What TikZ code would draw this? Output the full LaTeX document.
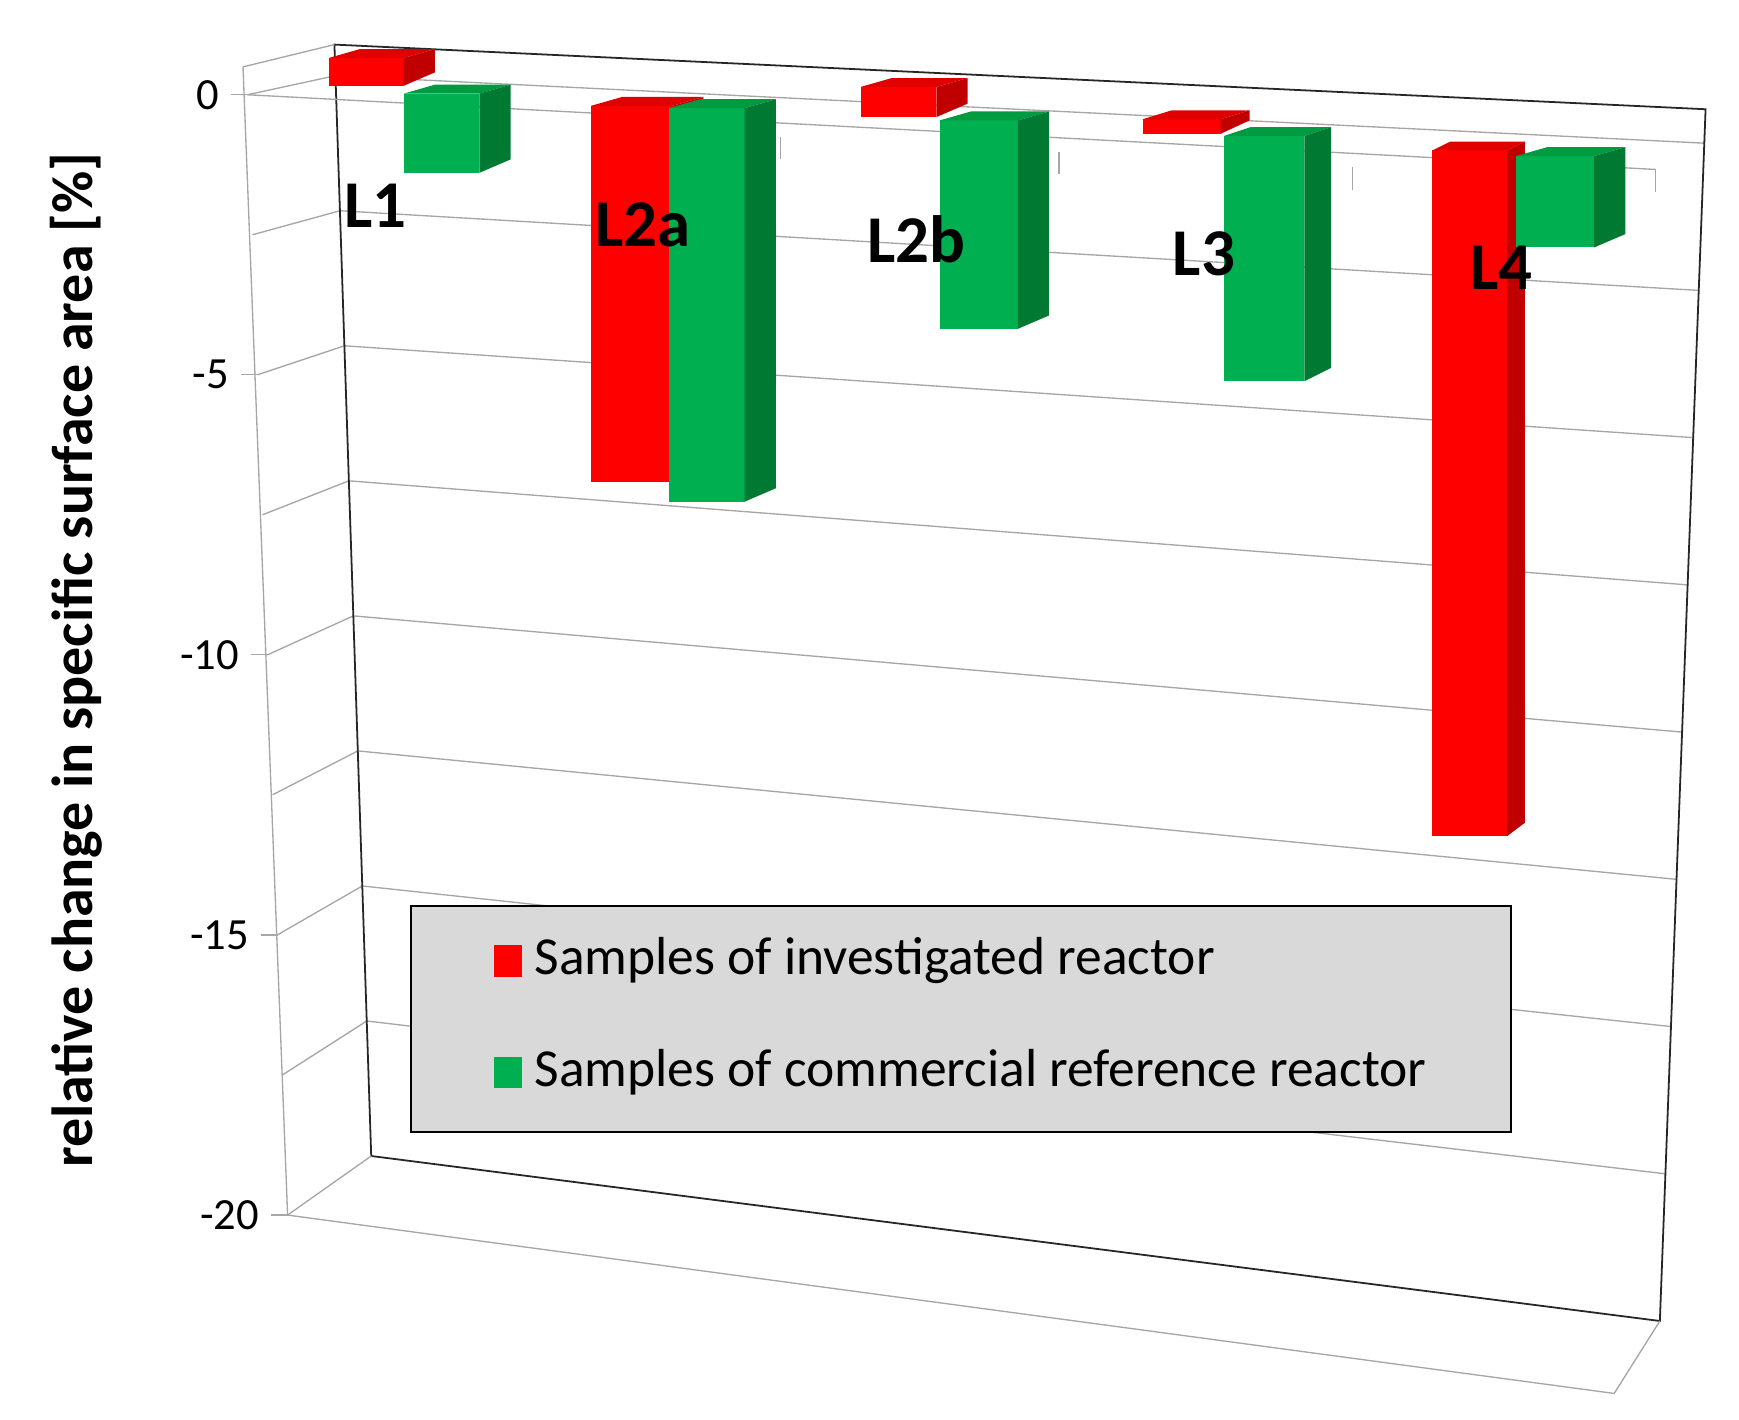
\documentclass[tikz,border=0pt]{standalone}
\usepackage{fontspec}
\setmainfont{Carlito}
\definecolor{rf}{HTML}{FF0000}\definecolor{rs}{HTML}{C00000}\definecolor{rt}{HTML}{E00000}
\definecolor{gf}{HTML}{00B050}\definecolor{gs}{HTML}{007A33}\definecolor{gt}{HTML}{009A40}
\definecolor{lg}{HTML}{D9D9D9}
\newcommand{\mybar}[6]{%
  \fill[#6f] (#1,#3) rectangle (#2,#4);
  \fill[#6t] (#1,#3) -- (#2,#3) -- ++(#5,-8) -- (#1+#5,#3-8) -- cycle;
  \fill[#6s] (#2,#3) -- ++(#5,-8) -- (#2+#5,#4-12) -- (#2,#4) -- cycle;}
\begin{document}
\begin{tikzpicture}[x=1pt,y=-1pt,
  grid/.style={gray!70,line width=1.2pt},
  wall/.style={black!85,line width=1.6pt},
  lab/.style={font=\fontsize{40}{40}\selectfont,anchor=east},
  cat/.style={font=\fontsize{60}{60}\selectfont\bfseries}]
\useasboundingbox (0,0) rectangle (1560,1273);
% gridlines
\foreach \i in {0,...,7}{
  \pgfmathsetmacro{\t}{0.028+0.1215*\i}
  \draw[grid] (222+4.5*\i,85+125.6*\i) -- (300+33*\t,40+997*\t) -- (1530-41*\t,98+1087*\t);
}
% walls
\coordinate (bl0) at (300,40); \coordinate (br0) at (1530,98);
\coordinate (bl1) at (333,1037); \coordinate (br1) at (1489,1185);
\coordinate (ft) at (218,60); \coordinate (fb) at (258,1090); \coordinate (fr) at (1448,1250);
\draw[wall] (bl0) -- (br0) -- (br1) -- (bl1) -- cycle;
\draw[grid] (ft) -- (bl0);
\draw[grid] (fb) -- (bl1);
\draw[grid] (fb) -- (fr) -- (br1);
\draw[grid] (ft) -- (fb);
% y ticks and labels
\foreach \v/\l in {0/0,1/-5,2/-10,3/-15,4/-20}{
  \draw[grid] (207+9*\v,85+251.2*\v) -- (222+9*\v,85+251.2*\v);
  \node[lab] (y\v) at (200+9*\v,85+251.2*\v) {\l};
}
% category axis
\draw[grid] (222,85) -- (1485,152);
\foreach \x/\y in {455/110,700/123,950/136,1213/150,1485/152}{
  \draw[grid] (\x,\y) -- (\x,\y+20);
}
% bars
\mybar{295}{362}{52}{77}{28}{r}
\mybar{362}{430}{84}{155}{28}{g}
\mybar{530}{603}{95}{432}{28}{r}
\mybar{600}{668}{97}{450}{28}{g}
\mybar{772}{840}{78}{105}{28}{r}
\mybar{843}{913}{108}{295}{28}{g}
\mybar{1025}{1095}{107}{120}{26}{r}
\mybar{1098}{1170}{122}{342}{24}{g}
\mybar{1285}{1352}{135}{750}{16}{r}
\mybar{1360}{1430}{140}{222}{28}{g}
% category labels
\node[cat] (c1) at (337,185) {L1};
\node[cat] (c2) at (577,202) {L2a};
\node[cat] (c3) at (822,215) {L2b};
\node[cat] (c4) at (1080,228) {L3};
\node[cat] (c5) at (1347,240) {L4};
% y label
\node[rotate=90,font=\fontsize{52}{52}\selectfont\bfseries] (yl) at (68,592) {relative change in specific surface area [\%]};
% legend
\node[draw=black,line width=1.4pt,fill=lg,minimum width=987pt,minimum height=203pt,anchor=north west] (leg) at (368,812) {};
\fill[rf] (443,848) rectangle (468,876);
\fill[gf] (443,948) rectangle (468,976);
\node[anchor=west,font=\fontsize{48}{48}\selectfont] (t1) at (476,862) {Samples of investigated reactor};
\node[anchor=west,font=\fontsize{48}{48}\selectfont] (t2) at (476,962) {Samples of commercial reference reactor};
\end{tikzpicture}
\end{document}
